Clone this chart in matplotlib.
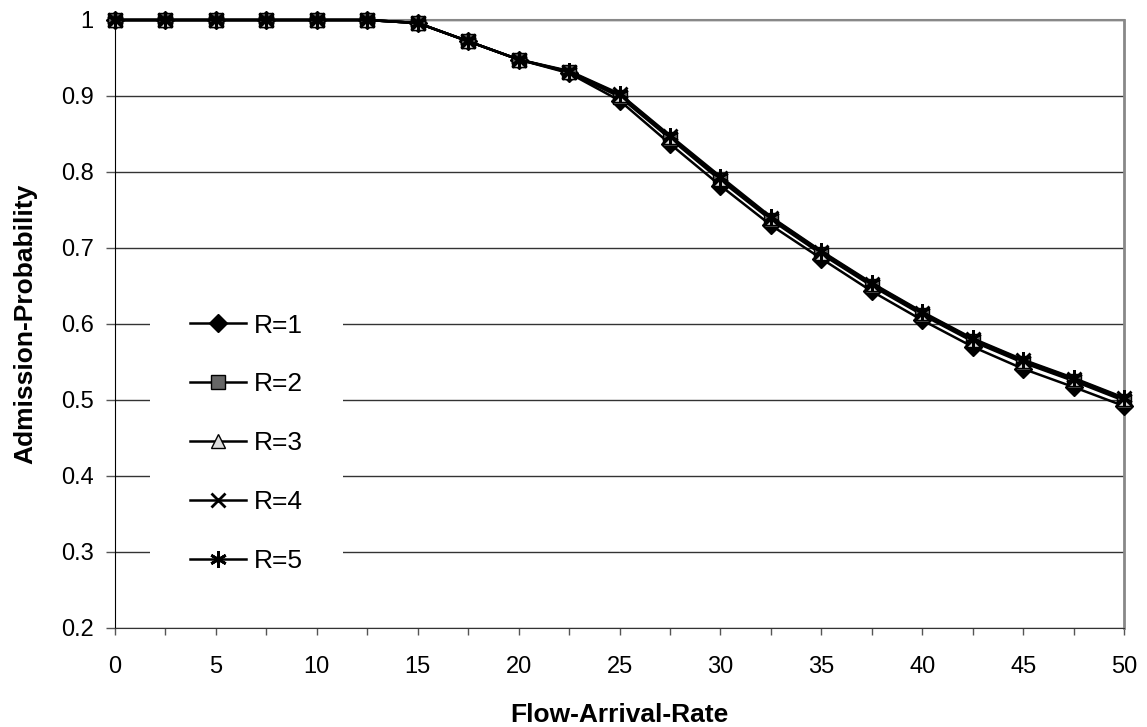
import numpy as np
import matplotlib
matplotlib.use("Agg")
import matplotlib.pyplot as plt
from matplotlib.ticker import MultipleLocator

plt.rcParams['font.family'] = ['Liberation Sans', 'DejaVu Sans']

# data
rate = [0, 2.5, 5, 7.5, 10, 12.5, 15, 17.5, 20, 22.5, 25, 27.5, 30,
        32.5, 35, 37.5, 40, 42.5, 45, 47.5, 50]
r1 = [1, 1, 1, 1, 1, 1, 0.996, 0.972, 0.948, 0.930, 0.894, 0.837, 0.782,
      0.730, 0.686, 0.643, 0.605, 0.570, 0.541, 0.517, 0.492]
r2 = [1, 1, 1, 1, 1, 1, 0.996, 0.972, 0.948, 0.931, 0.899, 0.844, 0.789,
      0.737, 0.692, 0.650, 0.612, 0.577, 0.549, 0.525, 0.499]
r3 = [1, 1, 1, 1, 1, 1, 0.996, 0.972, 0.948, 0.932, 0.901, 0.846, 0.791,
      0.739, 0.694, 0.652, 0.614, 0.579, 0.551, 0.527, 0.501]
r4 = [1, 1, 1, 1, 1, 1, 0.996, 0.972, 0.948, 0.932, 0.902, 0.847, 0.792,
      0.740, 0.695, 0.653, 0.615, 0.580, 0.552, 0.528, 0.502]
r5 = [1, 1, 1, 1, 1, 1, 0.996, 0.972, 0.948, 0.933, 0.903, 0.848, 0.794,
      0.741, 0.696, 0.654, 0.616, 0.581, 0.553, 0.529, 0.503]
labels = ['R=1', 'R=2', 'R=3', 'R=4', 'R=5']

fig = plt.figure(figsize=(11.47, 7.27), dpi=100)
ax = fig.add_axes([0.1003, 0.1362, 0.8797, 0.8363])

# marker styles, one per series
styles = [
    dict(marker='D', markersize=9.5, markerfacecolor='black', markeredgecolor='black'),
    dict(marker='s', markersize=9.5, markerfacecolor='#666666', markeredgecolor='black'),
    dict(marker='^', markersize=10.5, markerfacecolor='#dddddd', markeredgecolor='black'),
    dict(marker='x', markersize=10.5, markeredgecolor='black', markeredgewidth=2),
    dict(marker=(6, 2, 0), markersize=12, markeredgecolor='black', markeredgewidth=2),
]

for ys, lab, st in zip([r1, r2, r3, r4, r5], labels, styles):
    ax.plot(rate, ys, color='black', linewidth=1.8, label=lab, zorder=3,
            clip_on=False, **st)

ax.set_xlim(0, 50)
ax.set_ylim(0.2, 1.0)
ax.xaxis.set_major_locator(MultipleLocator(5))
ax.xaxis.set_minor_locator(MultipleLocator(2.5))
ax.set_yticks(np.arange(0.2, 1.01, 0.1))
ax.set_yticklabels(['0.2', '0.3', '0.4', '0.5', '0.6', '0.7', '0.8', '0.9', '1'])

ax.tick_params(axis='both', which='both', direction='out', labelsize=17,
               color='#555555', width=1)
ax.tick_params(axis='x', which='both', length=5, pad=15)
ax.tick_params(axis='y', which='major', length=6.5, pad=9)

# horizontal grid lines
ax.grid(axis='y', color='#333333', linewidth=1, zorder=0)
ax.set_axisbelow(True)

ax.spines['left'].set_color('black')
ax.spines['bottom'].set_color('#333333')
ax.spines['right'].set_color('#888888')
ax.spines['right'].set_linewidth(2)
ax.spines['top'].set_color('#888888')
ax.spines['top'].set_linewidth(1.5)

ax.set_xlabel('Flow-Arrival-Rate', fontsize=19, fontweight='bold', labelpad=18)
ax.set_ylabel('Admission-Probability', fontsize=19, fontweight='bold', labelpad=17)

leg = ax.legend(loc='upper left', bbox_to_anchor=(150 / 1147, 1 - 274 / 727),
                bbox_transform=fig.transFigure, fontsize=19, frameon=True,
                fancybox=False, edgecolor='white', facecolor='white', framealpha=1,
                handlelength=2.15, handletextpad=0.3, labelspacing=1.32,
                borderpad=1.5, borderaxespad=0, numpoints=1)
leg.get_frame().set_linewidth(0)

fig.savefig('out.png', dpi=100)
